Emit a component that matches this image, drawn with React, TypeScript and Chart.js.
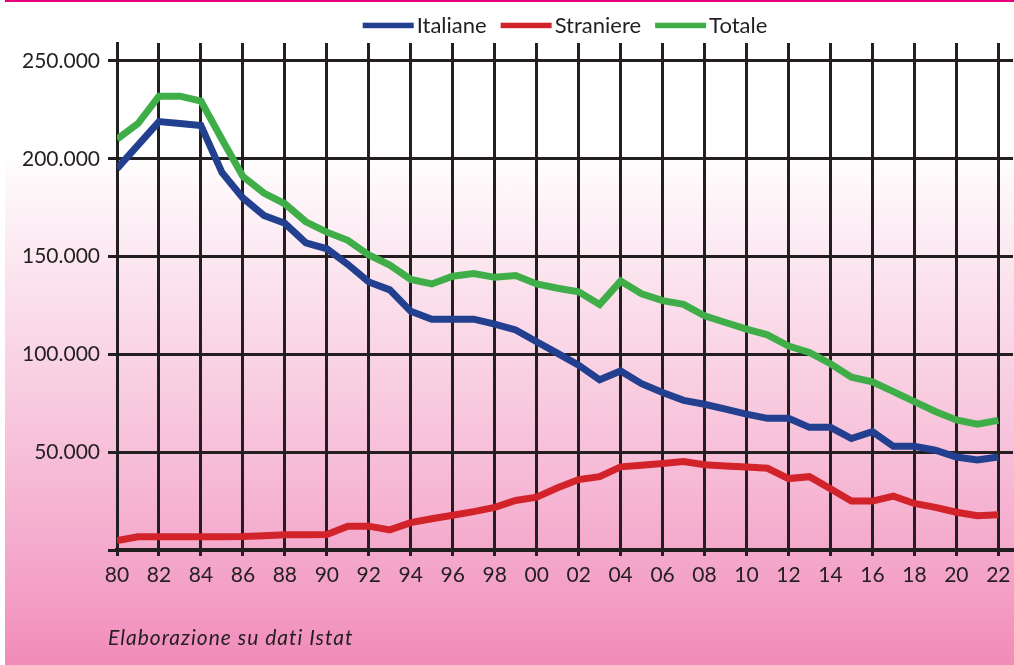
import React, { useEffect, useRef } from "react";
import { Chart, registerables } from "chart.js";

Chart.register(...registerables);

const years = [
  1980, 1981, 1982, 1983, 1984, 1985, 1986, 1987, 1988, 1989,
  1990, 1991, 1992, 1993, 1994, 1995, 1996, 1997, 1998, 1999,
  2000, 2001, 2002, 2003, 2004, 2005, 2006, 2007, 2008, 2009,
  2010, 2011, 2012, 2013, 2014, 2015, 2016, 2017, 2018, 2019,
  2020, 2021, 2022,
];

const italiane = [
  195000, 207000, 219000, 218000, 217000, 193000, 180000, 171000, 167000, 157000,
  154000, 146000, 137000, 133000, 122000, 118000, 118000, 118000, 115500, 112500,
  106500, 100500, 94500, 87000, 91500, 85000, 80500, 76500, 74500, 72000,
  69500, 67300, 67300, 62700, 62700, 57000, 60500, 53000, 53000, 51000,
  47500, 46000, 47500,
];

const straniere = [
  4800, 6800, 6800, 6800, 6800, 6800, 6900, 7300, 7800, 7800,
  7900, 12200, 12200, 10300, 14000, 16000, 17800, 19600, 21800, 25300,
  27000, 31800, 36000, 37500, 42500, 43300, 44200, 45200, 43600, 43000,
  42400, 41800, 36500, 37500, 31300, 25000, 25000, 27500, 23800, 21800,
  19300, 17500, 18000,
];

const totale = [
  210000, 218000, 232000, 232000, 229500, 210000, 191000, 182500, 177000, 167800,
  162500, 158300, 150800, 145700, 138300, 136000, 140000, 141300, 139400, 140300,
  136000, 133800, 132000, 125500, 137500, 131000, 127500, 125600, 119700, 116300,
  112900, 110000, 104300, 101000, 95200, 88300, 86000, 81000, 75900, 70800,
  66500, 64300, 66300,
];

const seriesNames = ["Italiane", "Straniere", "Totale"];
const seriesColors = ["#22408f", "#d2232a", "#3fae49"];

const xTickLabels = [
  "80", "82", "84", "86", "88", "90", "92", "94", "96", "98", "00",
  "02", "04", "06", "08", "10", "12", "14", "16", "18", "20", "22",
];
const xTickValues = xTickLabels.map((_, i) => 1980 + 2 * i);

const yTickValues = [0, 50000, 100000, 150000, 200000, 250000];
const yTickLabels = ["", "50.000", "100.000", "150.000", "200.000", "250.000"];

const caption = "Elaborazione su dati Istat";

const INK = "#231f20";
const FONT = "Lato";

const legendPlugin = {
  id: "topLegend",
  afterDraw(chart: any) {
    const ctx = chart.ctx;
    ctx.save();
    ctx.font = `22px ${FONT}`;
    const lineW = 51;
    const gapText = 3;
    const gapItem = 14;
    const items = chart.data.datasets.map((d: any) => ({
      label: d.label,
      color: d.borderColor,
      w: ctx.measureText(d.label).width,
    }));
    const total =
      items.reduce((s: number, it: any) => s + lineW + gapText + it.w, 0) +
      gapItem * (items.length - 1);
    let x = (chart.chartArea.left + chart.chartArea.right) / 2 - total / 2;
    ctx.textBaseline = "alphabetic";
    ctx.textAlign = "left";
    items.forEach((it: any) => {
      ctx.fillStyle = it.color;
      ctx.fillRect(x, 22.7, lineW, 5.5);
      x += lineW + gapText;
      ctx.fillStyle = INK;
      ctx.fillText(it.label, x, 32.5);
      x += it.w + gapItem;
    });
    ctx.font = `italic 21px ${FONT}`;
    try {
      (ctx as any).letterSpacing = "1px";
    } catch (e) {}
    ctx.fillText(caption, 108, 645);
    ctx.restore();
  },
};

export default function App() {
  const ref = useRef<HTMLCanvasElement | null>(null);

  useEffect(() => {
    document.body.style.margin = "0";
    if (!ref.current) return;
    const build = (vals: number[]) => years.map((y, i) => ({ x: y, y: vals[i] }));
    const chart = new Chart(ref.current, {
      type: "line",
      data: {
        datasets: [italiane, straniere, totale].map((vals, i) => ({
          label: seriesNames[i],
          data: build(vals),
          borderColor: seriesColors[i],
          backgroundColor: seriesColors[i],
          borderWidth: 7,
          pointRadius: 0,
          tension: 0,
          fill: false,
          borderJoinStyle: "miter" as const,
          borderCapStyle: "butt" as const,
        })),
      },
      options: {
        animation: false,
        responsive: false,
        devicePixelRatio: 1,
        layout: { padding: { top: 43, right: 1, left: 0, bottom: 0 } },
        plugins: {
          legend: { display: false },
          tooltip: { enabled: false },
        },
        scales: {
          x: {
            type: "linear",
            min: 1980,
            max: 2022.7,
            afterBuildTicks: (scale: any) => {
              scale.ticks = xTickValues.map((v) => ({ value: v }));
            },
            afterFit: (scale: any) => {
              scale.height = 115;
              scale.paddingLeft = 0;
              scale.paddingRight = 0;
            },
            ticks: {
              color: INK,
              font: { family: FONT, size: 21 },
              padding: 7,
              maxRotation: 0,
              autoSkip: false,
              callback: (v: any) => {
                const idx = xTickValues.indexOf(Number(v));
                return idx >= 0 ? xTickLabels[idx] : "";
              },
            },
            grid: {
              color: INK,
              lineWidth: 3,
              drawTicks: true,
              tickLength: 6,
            },
            border: { display: true, color: INK, width: 4 },
          },
          y: {
            type: "linear",
            min: 0,
            max: 259200,
            afterBuildTicks: (scale: any) => {
              scale.ticks = yTickValues.map((v) => ({ value: v }));
            },
            afterFit: (scale: any) => {
              scale.width = 117;
              scale.paddingTop = 0;
              scale.paddingBottom = 0;
            },
            ticks: {
              color: INK,
              font: { family: FONT, size: 21 },
              padding: 8,
              autoSkip: false,
              callback: (v: any) => {
                const idx = yTickValues.indexOf(Number(v));
                return idx >= 0 ? yTickLabels[idx] : "";
              },
            },
            grid: {
              color: INK,
              lineWidth: 3,
              drawTicks: true,
              tickLength: 9,
            },
            border: { display: true, color: INK, width: 3 },
          },
        },
      },
      plugins: [legendPlugin],
    });
    return () => chart.destroy();
  }, []);

  return (
    <div
      style={{
        position: "absolute",
        left: 0,
        top: 0,
        width: 1014,
        height: 665,
        background: "#ffffff",
        overflow: "hidden",
      }}
    >
      <div
        style={{
          position: "absolute",
          left: 5,
          top: 0,
          width: 1009,
          height: 2,
          background: "#e4007c",
        }}
      />
      <div
        style={{
          position: "absolute",
          left: 5,
          top: 150,
          width: 1009,
          height: 515,
          background:
            "linear-gradient(to bottom, #ffffff 0%, #fbe3ee 25%, #f8c9de 50%, #f5b0d0 72%, #f39cc5 88%, #f18bb9 100%)",
        }}
      />
      <canvas
        ref={ref}
        width={1014}
        height={665}
        style={{ position: "absolute", left: 0, top: 0, display: "block" }}
      />
    </div>
  );
}
